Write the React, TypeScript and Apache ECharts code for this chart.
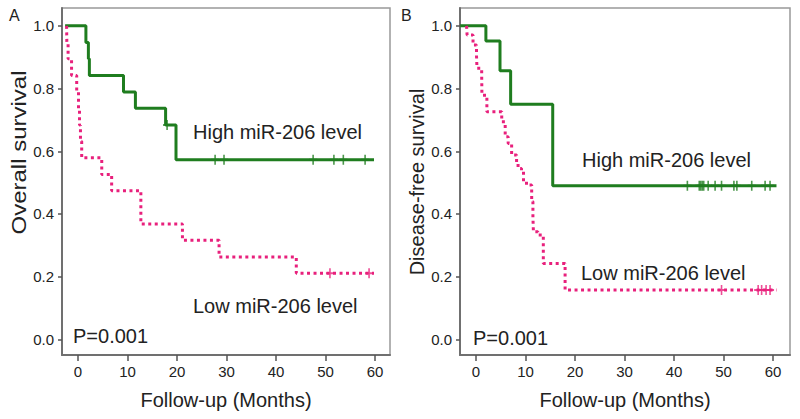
import React, { useEffect, useRef } from "react";
import * as echarts from "echarts";

// ---------- data (months, survival proportion) ----------
// Panel A: overall survival
const aHighTimes = [-2.6, 1.6, 2.1, 2.3, 9.2, 11.6, 17.7, 19.8, 59.8];
const aHighSurv = [1.0, 0.947, 0.895, 0.842, 0.789, 0.737, 0.684, 0.573, 0.573];
const aHighCensorTimes = [18.0, 27.7, 29.5, 47.5, 51.7, 53.6, 58.0];
const aHighCensorSurv = [0.684, 0.573, 0.573, 0.573, 0.573, 0.573, 0.573];

const aLowTimes = [-2.3, -2.25, -2.0, -1.3, -0.26, 0.1, 0.3, 0.5, 0.75, 4.8, 6.8, 12.7, 21.1, 28.5, 44.1, 59.8];
const aLowSurv = [1.0, 0.947, 0.895, 0.842, 0.789, 0.737, 0.684, 0.632, 0.579, 0.526, 0.474, 0.368, 0.316, 0.263, 0.211, 0.211];
const aLowCensorTimes = [50.9, 58.8];
const aLowCensorSurv = [0.211, 0.211];

// Panel B: disease-free survival
const bHighTimes = [-3.2, 2.0, 4.85, 7.0, 15.5, 60.7];
const bHighSurv = [1.0, 0.952, 0.857, 0.75, 0.49, 0.49];
const bHighCensorTimes = [42.7, 45.1, 45.4, 45.7, 46.0, 46.9, 48.3, 49.6, 52.1, 52.7, 55.7, 58.4, 59.4];
const bHighCensorSurv = [0.49, 0.49, 0.49, 0.49, 0.49, 0.49, 0.49, 0.49, 0.49, 0.49, 0.49, 0.49, 0.49];

const bLowTimes = [-1.9, -1.8, -0.6, 0.1, 0.2, 1.15, 1.2, 2.2, 5.2, 5.9, 6.5, 7.2, 8.2, 8.5, 9.2, 9.6, 10.2, 11.25, 11.5, 11.6, 12.5, 13.6, 18.0, 60.7];
const bLowSurv = [1.0, 0.971, 0.939, 0.907, 0.865, 0.843, 0.779, 0.726, 0.694, 0.646, 0.625, 0.588, 0.561, 0.545, 0.535, 0.503, 0.492, 0.44, 0.39, 0.343, 0.333, 0.242, 0.157, 0.157];
const bLowCensorTimes = [49.6, 57.0, 57.7, 58.6, 59.4];
const bLowCensorSurv = [0.157, 0.157, 0.157, 0.157, 0.157];

const xTicks = [0, 10, 20, 30, 40, 50, 60];
const yTicks = [0, 0.2, 0.4, 0.6, 0.8, 1.0];

const GREEN = "#1f7d1f";
const PINK = "#e8207c";
const FONT = "'Liberation Sans', Arial, sans-serif";
const TEXT = "#222";

const zip = (t: number[], s: number[]) => t.map((v, i) => [v, s[i]]);

const PLUS = "path://M4,0h2v4h4v2h-4v4h-2v-4h-4v-2h4z";

function makeXAxis(gridIndex: number, min: number, max: number) {
  return {
    type: "value",
    gridIndex,
    min,
    max,
    name: "Follow-up (Months)",
    nameLocation: "middle",
    nameGap: 35,
    nameTextStyle: { fontFamily: FONT, fontSize: 20, color: TEXT },
    axisLine: { show: true, onZero: false, lineStyle: { color: "#707070", width: 2 } },
    axisTick: { show: true, length: 6, customValues: xTicks, lineStyle: { color: "#555", width: 1.5 } },
    axisLabel: { customValues: xTicks, margin: 9, fontFamily: FONT, fontSize: 15, color: TEXT },
    splitLine: { show: false },
  };
}

function makeYAxis(gridIndex: number) {
  return {
    type: "value",
    gridIndex,
    min: -0.05,
    max: 1.057,
    axisLine: { show: true, onZero: false, lineStyle: { color: "#707070", width: 2 } },
    axisTick: { show: true, length: 4, customValues: yTicks, lineStyle: { color: "#555", width: 1.5 } },
    axisLabel: {
      customValues: yTicks,
      margin: 8,
      fontFamily: FONT,
      fontSize: 15,
      color: TEXT,
      formatter: (v: number) => v.toFixed(1),
    },
    splitLine: { show: false },
  };
}

function kmLine(idx: number, data: number[][], color: string, dotted: boolean) {
  return {
    type: "line",
    xAxisIndex: idx,
    yAxisIndex: idx,
    data,
    step: "end",
    symbol: "none",
    lineStyle: dotted
      ? { color, width: 3, type: [3, 3.5] }
      : { color, width: 3 },
    z: dotted ? 4 : 3,
  };
}

function censor(idx: number, data: number[][], color: string) {
  return {
    type: "scatter",
    xAxisIndex: idx,
    yAxisIndex: idx,
    data,
    symbol: PLUS,
    symbolSize: [8, 10],
    symbolKeepAspect: false,
    itemStyle: { color },
    z: 5,
  };
}

function txt(x: number, y: number, text: string, size: number, extra: any = {}) {
  return {
    type: "text",
    x,
    y,
    ...extra,
    style: { text, fontFamily: FONT, fontSize: size, fill: TEXT, verticalAlign: "middle", align: "left", ...(extra.style || {}) },
  };
}

export default function App() {
  const ref = useRef<HTMLDivElement>(null);
  useEffect(() => {
    if (!ref.current) return;
    const chart = echarts.init(ref.current, null, { renderer: "svg" });
    chart.setOption({
      animation: false,
      backgroundColor: "#fff",
      grid: [
        { left: 62, top: 8, width: 328, height: 347, show: true, borderColor: "#999", borderWidth: 1.5 },
        { left: 460, top: 8, width: 330, height: 347, show: true, borderColor: "#999", borderWidth: 1.5 },
      ],
      xAxis: [makeXAxis(0, -3.23, 63.03), makeXAxis(1, -3.23, 63.43)],
      yAxis: [makeYAxis(0), makeYAxis(1)],
      series: [
        kmLine(0, zip(aHighTimes, aHighSurv), GREEN, false),
        kmLine(0, zip(aLowTimes, aLowSurv), PINK, true),
        censor(0, zip(aHighCensorTimes, aHighCensorSurv), GREEN),
        censor(0, zip(aLowCensorTimes, aLowCensorSurv), PINK),
        kmLine(1, zip(bHighTimes, bHighSurv), GREEN, false),
        kmLine(1, zip(bLowTimes, bLowSurv), PINK, true),
        censor(1, zip(bHighCensorTimes, bHighCensorSurv), GREEN),
        censor(1, zip(bLowCensorTimes, bLowCensorSurv), PINK),
      ],
      graphic: [
        txt(9, 15, "A", 16),
        txt(401, 15, "B", 16),
        txt(19, 152.5, "Overall survival", 20, { rotation: Math.PI / 2, scaleX: 1.2, style: { align: "center" } }),
        txt(417, 182, "Disease-free survival", 20, { rotation: Math.PI / 2, style: { align: "center" } }),
        txt(193, 132, "High miR-206 level", 20),
        txt(193, 306, "Low miR-206 level", 20),
        txt(73, 336, "P=0.001", 20),
        txt(582, 160, "High miR-206 level", 20),
        txt(581, 273, "Low miR-206 level", 20),
        txt(473, 338, "P=0.001", 20),
      ],
    });
    return () => chart.dispose();
  }, []);
  return <div ref={ref} style={{ position: "fixed", left: 0, top: 0, width: 800, height: 419 }} />;
}
